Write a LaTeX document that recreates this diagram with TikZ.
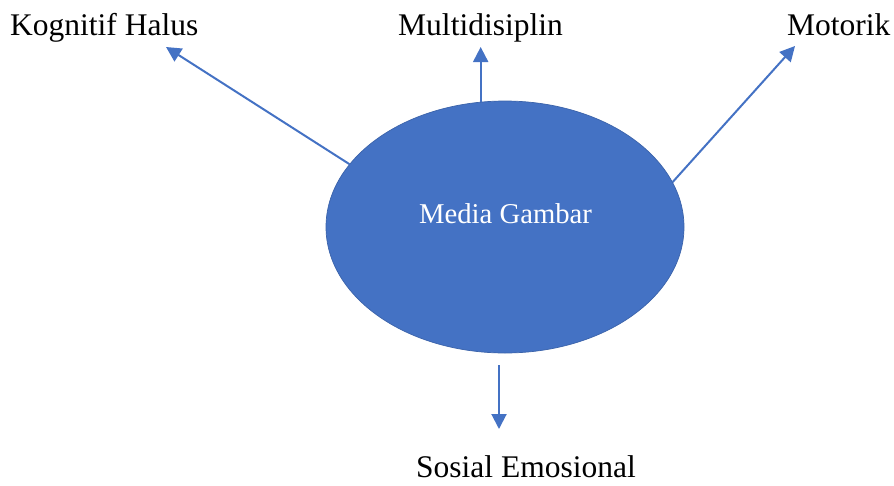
\documentclass[tikz,border=0pt]{standalone}
\usepackage{fontspec}
\setmainfont{Liberation Serif}
\usetikzlibrary{shapes.geometric,arrows.meta}
\definecolor{wblue}{HTML}{4472C4}
\definecolor{wedge}{HTML}{3B63AA}
\begin{document}
\begin{tikzpicture}[x=1pt,y=-1pt,
  lbl/.style={anchor=base,inner sep=0pt,font=\fontsize{31.5}{36}\selectfont,text=black},
  conn/.style={draw=wblue,line width=2pt,-{Triangle[length=15pt,width=15pt]}},
  blob/.style={ellipse,fill=wblue,draw=wedge,line width=0.7pt,minimum width=358pt,minimum height=252pt,inner sep=0pt}]
\useasboundingbox (0,0) rectangle (894,485);
\node[blob] (m) at (505,227) {};
\node[anchor=base,inner sep=0pt,text=white,font=\fontsize{28.7}{32}\selectfont] (mt) at (505.5,223) {Media Gambar};
\node[lbl,anchor=base west] (kh) at (10,35) {Kognitif Halus};
\node[lbl] (md) at (480.5,35) {Multidisiplin};
\node[lbl,anchor=base west] (mo) at (787,35) {Motorik};
\node[lbl] (se) at (526,477) {Sosial Emosional};
\coordinate (khtip) at (166,47);
\coordinate (mdtip) at (480,47);
\coordinate (motip) at (795,46);
\coordinate (se0) at (499,365);
\coordinate (setip) at (499,429);
\draw[conn] (m.158.8) -- (khtip);
\draw[conn] (m.101.3) -- (m.101.3 |- mdtip);
\draw[conn] (m.15.7) -- (motip);
\draw[conn] (se0) -- (setip);
\end{tikzpicture}
\end{document}
